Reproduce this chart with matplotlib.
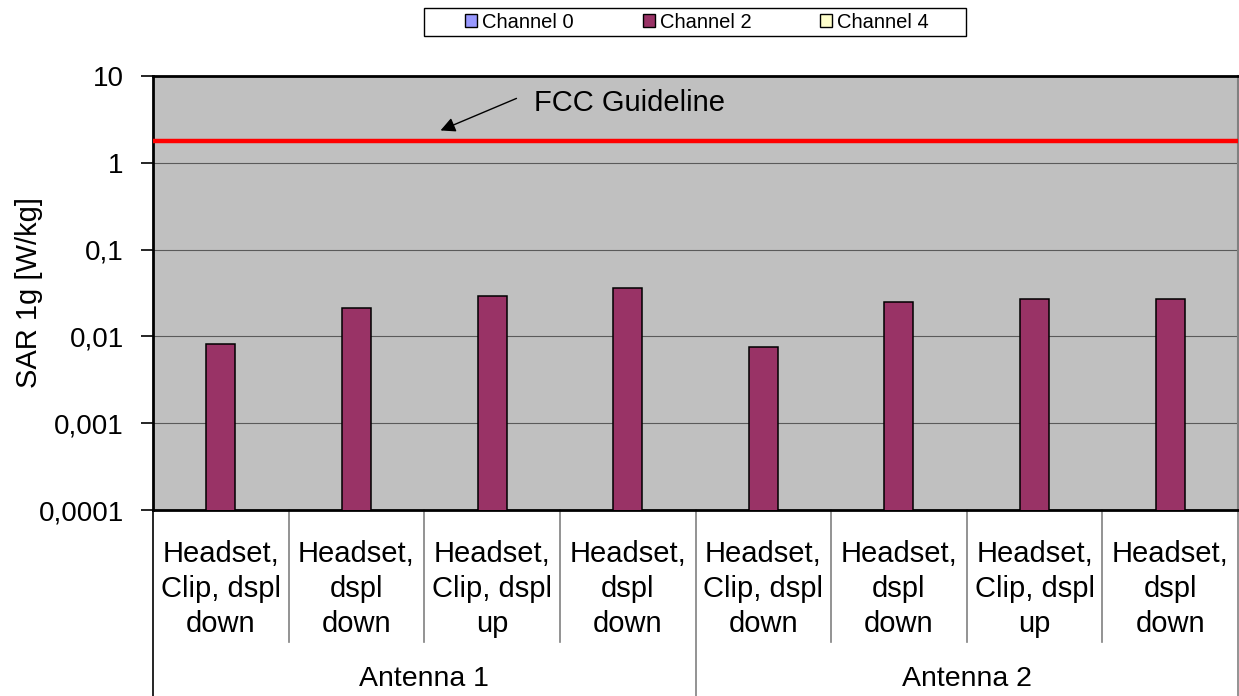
import numpy as np
import matplotlib
matplotlib.use("Agg")
import matplotlib.pyplot as plt
from matplotlib.patches import Patch, Rectangle
from matplotlib.lines import Line2D
from matplotlib import font_manager

names = {f.name for f in font_manager.fontManager.ttflist}
FONT = "Liberation Sans" if "Liberation Sans" in names else "DejaVu Sans"
plt.rcParams["font.family"] = [FONT, "DejaVu Sans"]

# ---------------- data ----------------
categories = ["Headset,\nClip, dspl\ndown", "Headset,\ndspl\ndown",
              "Headset,\nClip, dspl\nup", "Headset,\ndspl\ndown",
              "Headset,\nClip, dspl\ndown", "Headset,\ndspl\ndown",
              "Headset,\nClip, dspl\nup", "Headset,\ndspl\ndown"]
groups = ["Antenna 1", "Antenna 2"]
group_sizes = [4, 4]
series_names = ["Channel 0", "Channel 2", "Channel 4"]
channel0 = [np.nan] * 8
channel2 = [0.0082, 0.0212, 0.0294, 0.0360, 0.0075, 0.0252, 0.0267, 0.0272]
channel4 = [np.nan] * 8
fcc_limit = 1.8
ytick_values = [0.0001, 0.001, 0.01, 0.1, 1, 10]
ytick_labels = ["0,0001", "0,001", "0,01", "0,1", "1", "10"]
colors = ["#9999FF", "#993366", "#FFFFCC"]

W, H = 1239, 696
fig = plt.figure(figsize=(W / 100, H / 100), dpi=100)
ax = fig.add_axes([153 / W, (H - 510) / H, (1238 - 153) / W, (510 - 76) / H])
ax.set_facecolor("#C0C0C0")

x = np.arange(len(categories))
bw = 0.214
for k, (vals, col) in enumerate(zip([channel0, channel2, channel4], colors)):
    ax.bar(x + (k - 1) * bw, vals, width=bw, color=col,
           edgecolor="black", linewidth=1.1, zorder=3)

ax.set_yscale("log")
ax.set_ylim(ytick_values[0], ytick_values[-1])
ax.set_xlim(-0.5, len(categories) - 0.5)
ax.set_yticks(ytick_values)
ax.set_yticklabels(ytick_labels)
ax.yaxis.set_minor_locator(matplotlib.ticker.NullLocator())
ax.tick_params(axis="y", direction="out", length=9, width=1.2, pad=12,
               labelsize=20, colors="black")
ax.set_xticks([])
for v in ytick_values[1:-1]:
    ax.axhline(v, color="#5A5A5A", lw=0.8, zorder=1)

ax.axhline(fcc_limit, color="#FF0000", lw=3.2, zorder=4)

for s in ["left", "top", "bottom"]:
    ax.spines[s].set_color("black")
    ax.spines[s].set_linewidth(2.0)
ax.spines["right"].set_color("#808080")
ax.spines["right"].set_linewidth(1.5)

ax.set_ylabel("SAR 1g [W/kg]", fontsize=21)
ax.yaxis.set_label_coords(-0.101, 0.5)

# FCC annotation
ax.annotate("", xy=(1.62, 2.36), xytext=(2.18, 5.52),
            arrowprops=dict(arrowstyle="-|>", mutation_scale=22, lw=1.0,
                            color="black", shrinkA=0, shrinkB=0), zorder=5)
ax.text(2.31, 4.95, "FCC Guideline", fontsize=21, va="center", ha="left", zorder=5)

# Category labels
trans = matplotlib.transforms.blended_transform_factory(ax.transData, ax.transAxes)
for i, lab in enumerate(categories):
    ax.text(i, -0.181, lab, transform=trans, ha="center", va="center",
            fontsize=21, linespacing=1.32, clip_on=False)
inner_bottom = -(642 - 510) / (510 - 76)
outer_bottom = -(696 - 510) / (510 - 76)
boundaries = np.cumsum([0] + group_sizes) - 0.5
for i in range(1, len(categories)):
    if i - 0.5 in boundaries:
        continue
    ax.add_line(Line2D([i - 0.5, i - 0.5], [0, inner_bottom], transform=trans,
                       color="#808080", lw=1.2, clip_on=False))
for b in boundaries:
    ax.add_line(Line2D([b, b], [0, outer_bottom], transform=trans,
                       color="#808080" if b > -0.5 else "black", lw=1.2, clip_on=False))
for g, (name, n) in enumerate(zip(groups, group_sizes)):
    c = boundaries[g] + n / 2
    ax.text(c, -(679 - 510) / (510 - 76), name, transform=trans, ha="center",
            va="center", fontsize=20.5, clip_on=False)

# Legend
handles = [Patch(facecolor=c, edgecolor="black", linewidth=1.0) for c in colors]
fig.legend(handles, series_names, loc="center", bbox_to_anchor=(697 / W, 1 - 22 / H),
           ncol=3, frameon=False, fontsize=14.5, handlelength=0.6, handleheight=0.6,
           handletextpad=0.25, columnspacing=3.4, borderpad=0.2)
fig.add_artist(Rectangle((424 / W, 1 - 36 / H), 542 / W, 28 / H, transform=fig.transFigure,
                         facecolor="none", edgecolor="black", lw=1.0))

fig.savefig("out.png", dpi=100)
